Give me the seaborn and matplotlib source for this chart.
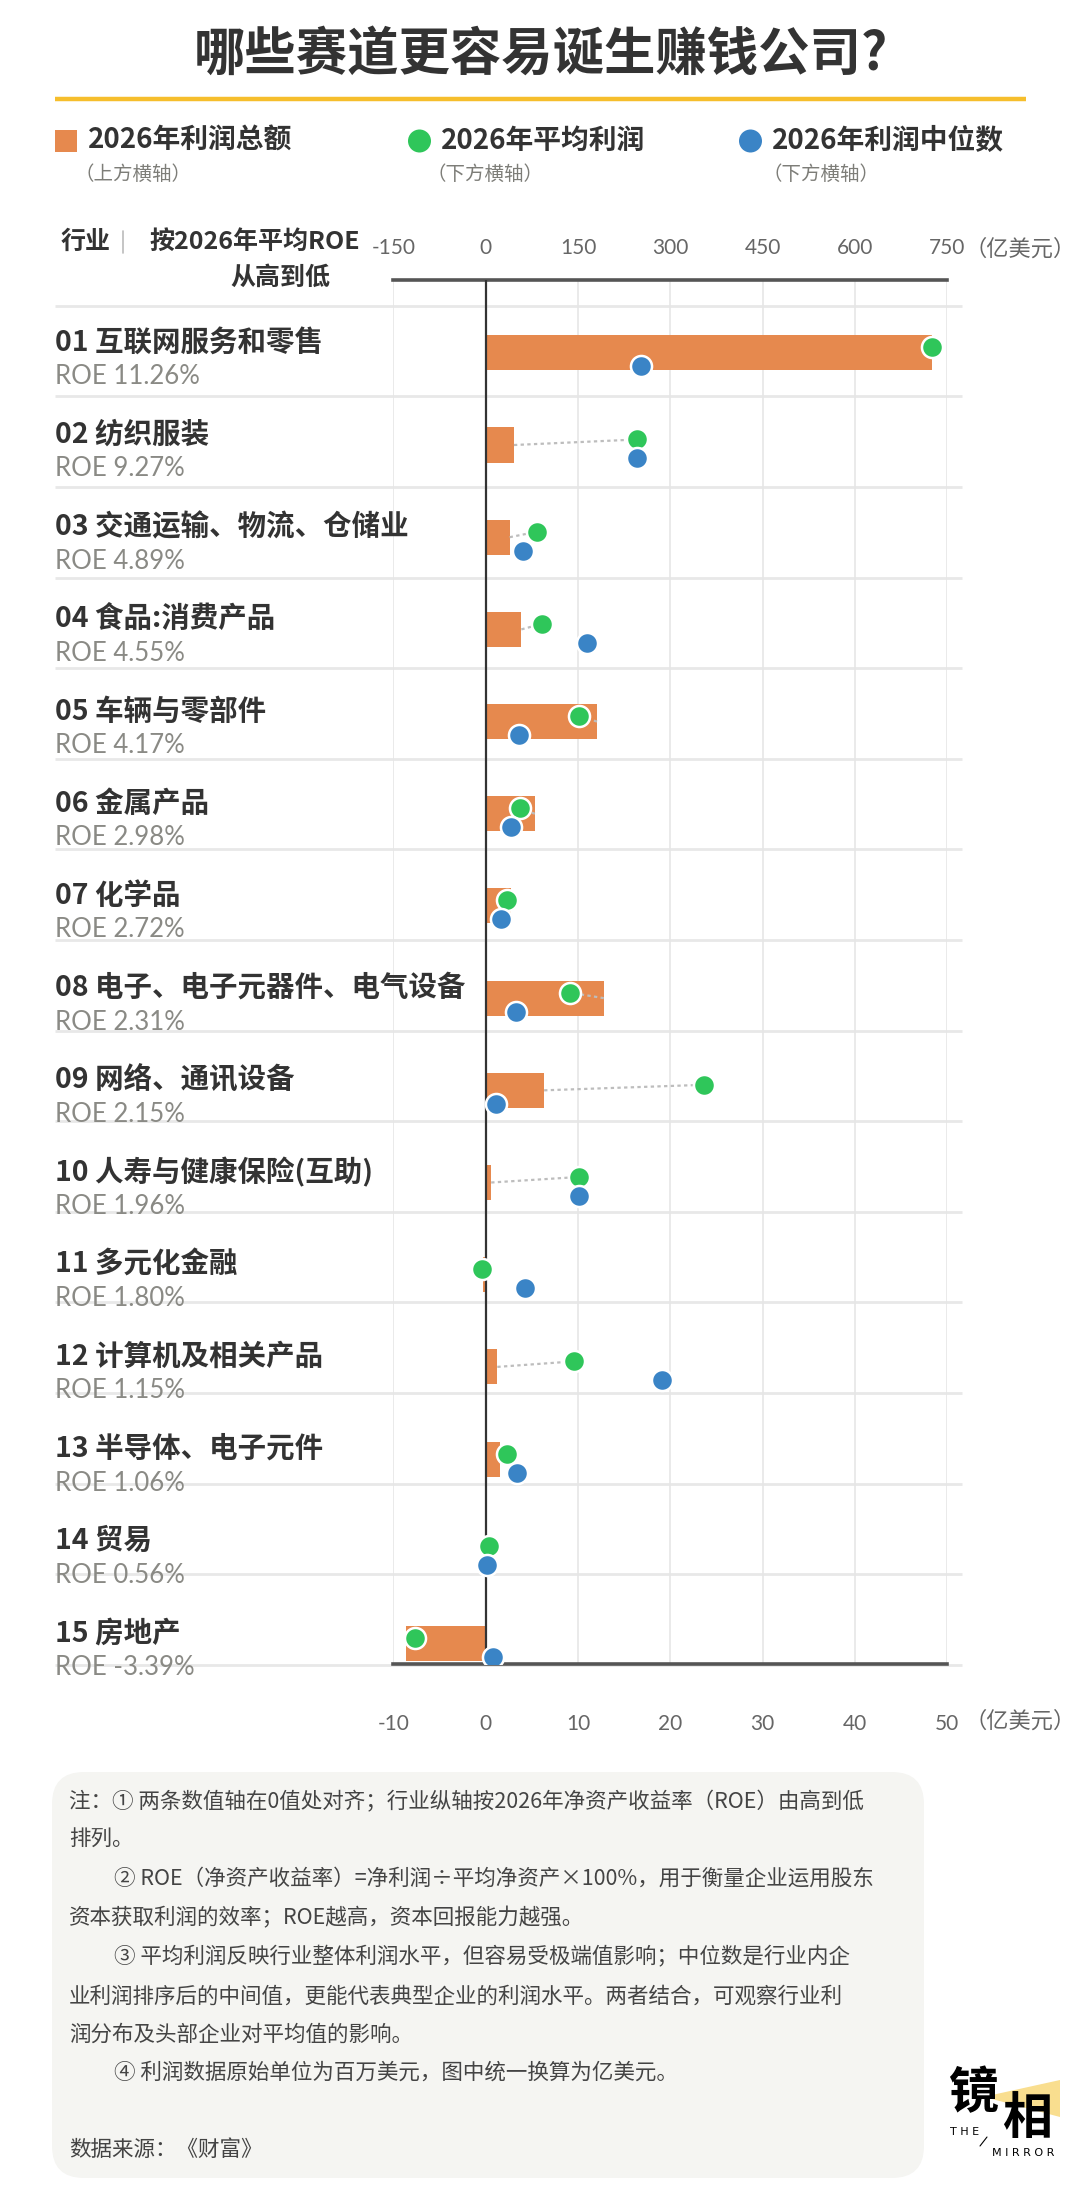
import numpy as np
import pandas as pd
import matplotlib
matplotlib.use("Agg")
import matplotlib.pyplot as plt
import matplotlib.transforms as mtransforms
from matplotlib.patches import Rectangle, Circle, FancyBboxPatch, Polygon
import seaborn as sns

# ============================================================================
# DATA (亿美元)
# ============================================================================

industries = ["互联网服务和零售", "纺织服装", "交通运输、物流、仓储业", "食品:消费产品",
              "车辆与零部件", "金属产品", "化学品", "电子、电子元器件、电气设备",
              "网络、通讯设备", "人寿与健康保险(互助)", "多元化金融", "计算机及相关产品",
              "半导体、电子元件", "贸易", "房地产"]
roe = [11.26, 9.27, 4.89, 4.55, 4.17, 2.98, 2.72, 2.31, 2.15, 1.96, 1.80, 1.15, 1.06, 0.56, -3.39]
profit_total = [725, 46, 39, 58, 181, 80, 41, 192, 95, 9, -5, 19, 23, 1, -130]
profit_mean = [48.3, 16.4, 5.6, 6.1, 10.1, 3.7, 2.3, 9.1, 23.7, 10.1, -0.4, 9.6, 2.3, 0.35, -7.7]
profit_median = [16.8, 16.4, 4.0, 11.0, 3.6, 2.7, 1.7, 3.3, 1.1, 10.1, 4.3, 19.1, 3.4, 0.2, 0.85]

top_ticks = [-150, 0, 150, 300, 450, 600, 750]
bottom_ticks = [-10, 0, 10, 20, 30, 40, 50]

legend_labels = ["2026年利润总额", "2026年平均利润", "2026年利润中位数"]
legend_sub = ["（上方横轴）", "（下方横轴）", "（下方横轴）"]

notes = [
    (69, 1802, "注：① 两条数值轴在0值处对齐；行业纵轴按2026年净资产收益率（ROE）由高到低"),
    (69, 1840, "排列。"),
    (114, 1879, "② ROE（净资产收益率）=净利润÷平均净资产×100%，用于衡量企业运用股东"),
    (69, 1918, "资本获取利润的效率；ROE越高，资本回报能力越强。"),
    (114, 1957, "③ 平均利润反映行业整体利润水平，但容易受极端值影响；中位数是行业内企"),
    (69, 1997, "业利润排序后的中间值，更能代表典型企业的利润水平。两者结合，可观察行业利"),
    (69, 2035, "润分布及头部企业对平均值的影响。"),
    (114, 2073, "④ 利润数据原始单位为百万美元，图中统一换算为亿美元。"),
    (69, 2150, "数据来源：《财富》"),
]

# ============================================================================
# STYLE
# ============================================================================

ORANGE = "#E6894E"
GREEN = "#2FC65A"
BLUE = "#3A84C6"
DARK = "#333333"
GRAY = "#8a8a85"

sns.set_theme(style="white")
CJK = ["Noto Sans CJK SC", "DejaVu Sans"]
LATIN = ["Lato", "Noto Sans CJK SC", "DejaVu Sans"]
plt.rcParams["font.family"] = CJK
plt.rcParams["axes.unicode_minus"] = False

df = pd.DataFrame({
    "industry": industries,
    "pos": np.arange(len(industries)),
    "total": profit_total,
    "mean": profit_mean,
    "median": profit_median,
    "roe": roe,
})

W, H = 1080, 2195
fig = plt.figure(figsize=(W / 100, H / 100), dpi=100)
fig.patch.set_facecolor("white")

# background layer in pixel coordinates
bg = fig.add_axes([0, 0, 1, 1], zorder=-1)
bg.set_xlim(0, W)
bg.set_ylim(H, 0)
bg.axis("off")

# title
bg.text(541, 54, "哪些赛道更容易诞生赚钱公司?", ha="center", va="center",
        fontsize=37, fontweight="heavy", color=DARK)
bg.plot([55, 1026], [99, 99], color="#F6BE2C", lw=3.2, solid_capstyle="butt")

# legend
bg.add_patch(Rectangle((55, 130), 22, 22, color=ORANGE, lw=0))
bg.add_patch(Circle((419.5, 141), 11.5, color=GREEN, lw=0))
bg.add_patch(Circle((750.5, 141), 11.5, color=BLUE, lw=0))
for tx, sx, lab, sub in zip([88, 441, 772], [74, 427, 762], legend_labels, legend_sub):
    bg.text(tx, 141, lab, ha="left", va="center", fontsize=20, fontweight="bold", color=DARK)
    bg.text(sx, 174, sub, ha="left", va="center", fontsize=14, color="#7d7d78")

# header
bg.text(61, 242, "行业", ha="left", va="center", fontsize=18, fontweight="bold", color=DARK)
bg.plot([123, 123], [231, 253], color="#bbbbbb", lw=1.2)
bg.text(255, 242, "按2026年平均ROE", ha="center", va="center", fontsize=18,
        fontweight="bold", color=DARK)
bg.text(280, 278, "从高到低", ha="center", va="center", fontsize=18,
        fontweight="bold", color=DARK)

# row separators
for k in range(len(industries) + 1):
    yy = 305.7 + 90.6 * k
    bg.plot([55, 962], [yy, yy], color="#e8e8e8", lw=2, solid_capstyle="butt")

# note box
bg.add_patch(FancyBboxPatch((52, 1772), 872, 406,
                            boxstyle="round,pad=0,rounding_size=32",
                            facecolor="#f5f5f2", edgecolor="none"))
for nx, ny, line in notes:
    bg.text(nx, ny, line, ha="left", va="center", fontsize=15.5, color="#444444")

# logo
bg.add_patch(Polygon([[992, 2095], [1060, 2080], [1060, 2117], [992, 2099]],
                     closed=True, facecolor="#F7D36A", edgecolor="none", alpha=0.75))
bg.text(973, 2094, "镜", ha="center", va="center", fontsize=36, fontweight="heavy", color="black")
bg.text(1027, 2120, "相", ha="center", va="center", fontsize=36, fontweight="heavy", color="black")
bg.text(950, 2132, "T H E", ha="left", va="center", fontsize=8, color="black",
        family=["DejaVu Sans"])
bg.text(992, 2153, "M I R R O R", ha="left", va="center", fontsize=8, color="black",
        family=["DejaVu Sans"])
bg.plot([980, 987], [2146, 2137], color="black", lw=0.8)

# ============================================================================
# MAIN CHART
# ============================================================================

ax_left, ax_right, ax_top, ax_bot = 393.3, 947.3, 280, 1664
ax = fig.add_axes([ax_left / W, 1 - ax_bot / H, (ax_right - ax_left) / W, (ax_bot - ax_top) / H])
ax.patch.set_visible(False)

sns.barplot(data=df, x="total", y="pos", orient="h", native_scale=True,
            color=ORANGE, width=0.38, errorbar=None, saturation=1, ax=ax,
            linewidth=0, zorder=2)
ax.axvline(0, color=DARK, lw=1.6, zorder=3)
ax.set_xlim(-150, 750)
ax.grid(axis="x", color="#e6e6e6", lw=1.2)
ax.grid(axis="y", visible=False)
ax.set_axisbelow(True)
ax.set_xlabel("")
ax.set_ylabel("")
for side in ["left", "right"]:
    ax.spines[side].set_visible(False)
for side in ["top", "bottom"]:
    ax.spines[side].set_visible(True)
    ax.spines[side].set_color("#555555")
    ax.spines[side].set_linewidth(2.6)

# lower axis: mean & median
tw = ax.twiny()
tw.set_xlim(-10, 50)
for side in tw.spines:
    tw.spines[side].set_visible(False)

scale = (50 - (-10)) / (750 - (-150))
for _, r in df.iterrows():
    tw.plot([r["total"] * scale, r["mean"]], [r["pos"], r["pos"] - 0.06],
            color="#bdbdbd", lw=1.6, ls=(0, (1.5, 1.5)), zorder=3)

sns.scatterplot(x=df["mean"], y=df["pos"] - 0.06, ax=tw, color=GREEN, s=230,
                edgecolor="white", linewidth=1.8, zorder=4)
sns.scatterplot(x=df["median"], y=df["pos"] + 0.146, ax=tw, color=BLUE, s=230,
                edgecolor="white", linewidth=1.8, zorder=5)
tw.set_xlabel("")
tw.set_ylabel("")

# tick placement (after twiny, which resets the sides)
ax.set_xticks(top_ticks)
ax.set_xticklabels([str(t) for t in top_ticks])
ax.xaxis.tick_top()
ax.tick_params(axis="x", which="both", top=True, labeltop=True, bottom=False,
               labelbottom=False, length=0, pad=16, labelsize=15, labelcolor="#666666")
for lab in ax.get_xticklabels():
    lab.set_fontfamily(LATIN)

tw.set_xticks(bottom_ticks)
tw.set_xticklabels([str(t) for t in bottom_ticks])
tw.xaxis.tick_bottom()
tw.tick_params(axis="x", which="both", bottom=True, labelbottom=True, top=False,
               labeltop=False, length=0, pad=36, labelsize=15, labelcolor="#666666")
for lab in tw.get_xticklabels():
    lab.set_fontfamily(LATIN)

ax.set_yticks([])
ax.set_ylim(14.223, -0.79)

# unit labels
bg.text(964, 249, "（亿美元）", ha="left", va="center", fontsize=16, color="#666666")
bg.text(964, 1721, "（亿美元）", ha="left", va="center", fontsize=16, color="#666666")

# row labels (x in pixels, y in category units)
trans = mtransforms.blended_transform_factory(bg.transData, ax.transData)
for _, r in df.iterrows():
    ax.text(55, r["pos"] - 0.11, f"{r['pos'] + 1:02d} {r['industry']}", transform=trans,
            ha="left", va="center", fontsize=20.5, fontweight="bold", color=DARK, clip_on=False)
    ax.text(55, r["pos"] + 0.26, f"ROE {r['roe']:.2f}%", transform=trans,
            ha="left", va="center", fontsize=18.5, color=GRAY, clip_on=False,
            family=LATIN)

fig.savefig("out.png", dpi=100)
